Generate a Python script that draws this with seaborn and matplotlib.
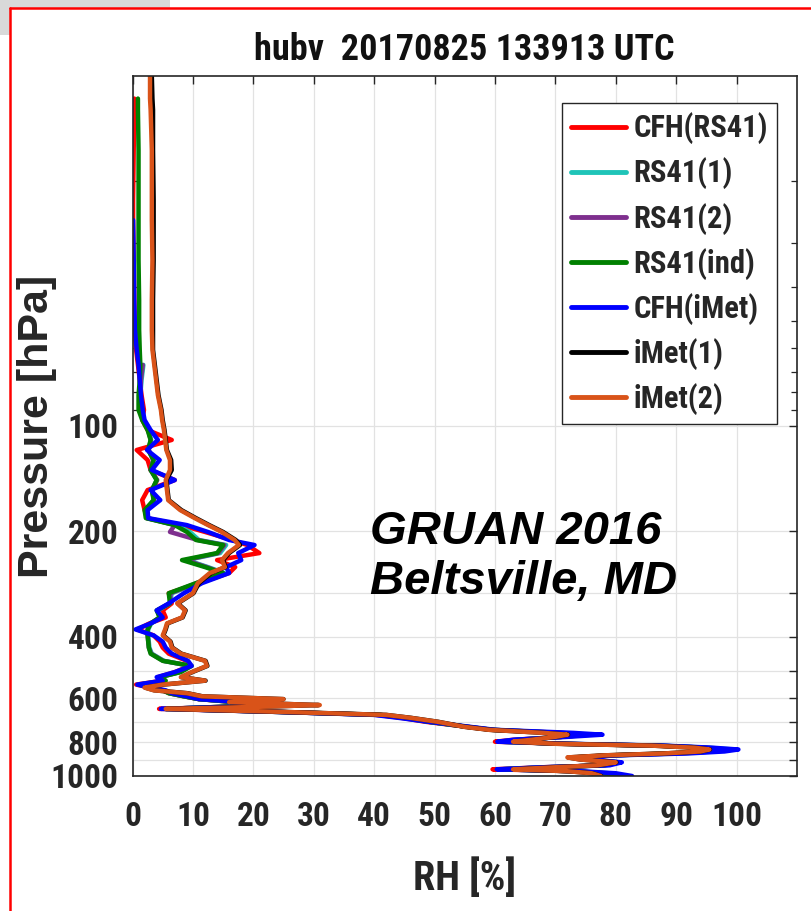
import numpy as np
import pandas as pd
import matplotlib
matplotlib.use("Agg")
import matplotlib.pyplot as plt
import seaborn as sns
from matplotlib.patches import Rectangle
from matplotlib.lines import Line2D
from matplotlib.ticker import FixedLocator, NullFormatter

nan = np.nan

# ---------------- data ----------------
pressure = [10.0, 11.6, 12.5, 16.3, 22.6, 25.8, 33.6, 43.7, 53.2, 60.6,
            66.9, 73.9, 81.6, 90.0, 96.1, 102.7, 109.6, 117.1, 125.1, 133.6,
            142.7, 152.4, 162.8, 173.9, 183.3, 191.9, 200.8, 211.7, 218.8, 230.7,
            241.6, 253.0, 263.1, 281.2, 300.5, 321.2, 336.4, 352.3, 366.5, 381.3,
            396.6, 413.0, 429.7, 447.2, 468.8, 484.6, 504.8, 521.9, 534.0, 548.0,
            559.0, 569.0, 580.0, 592.0, 603.0, 615.0, 627.0, 635.0, 643.0, 656.0,
            669.0, 682.0, 700.0, 724.0, 738.0, 753.0, 762.0, 773.0, 788.0, 798.0,
            809.0, 819.0, 830.0, 840.0, 851.0, 862.0, 873.0, 885.0, 897.0, 914.0,
            932.0, 944.0, 957.0, 969.0, 982.0, 1000.0]

cfh_rs41 = [nan, 0.3, 0.3, 0.2, 0.1, 0.1, 0.2, 0.3, 0.4, 0.6,
            0.9, 1.2, 1.5, 1.9, 1.6, 2.5, 6.5, 0.7, 2.5, 3.0,
            7.0, 2.5, 1.6, 2.0, 2.4, 8.0, 12.0, 16.5, 19.0, 21.0,
            14.0, 17.0, 16.0, 11.0, 6.0, 6.5, 5.0, 5.5, 2.8, 0.8,
            3.5, 4.5, 5.0, 6.0, 9.0, 9.5, 7.0, 4.2, 5.0, 0.6,
            2.8, 5.2, 6.0, 8.5, 11.0, 17.0, 22.0, 14.5, 4.4, 24.0,
            40.5, 44.5, 48.5, 55.5, 59.5, 71.0, 75.0, 71.0, 63.0, 60.0,
            71.0, 87.0, 94.5, 98.0, 96.0, 90.0, 79.0, 73.0, 75.0, 80.5,
            78.0, 68.0, 59.6, 73.0, 78.0, 80.0]

rs41_1 = [nan, nan, nan, nan, nan, nan, nan, nan, nan, nan,
          1.8, 1.5, 1.3, 1.2, 1.7, 2.6, 3.1, 2.6, 3.5, 3.1,
          4.0, 3.3, 3.5, 2.2, 2.4, 7.2, 9.5, 11.0, 15.5, 14.5,
          9.0, 12.5, 15.2, 10.8, 6.5, 6.2, 4.2, 4.6, 3.1, 2.6,
          2.6, 2.7, 2.8, 3.2, 5.2, 9.6, 7.8, 4.5, 5.4, 1.2,
          2.6, 5.0, 6.2, 8.6, 11.0, 17.2, 22.5, 14.2, 5.4, 24.2,
          41.0, 45.0, 49.2, 55.6, 59.6, 71.0, 76.0, 71.0, 63.5, 60.8,
          71.5, 87.5, 95.2, 99.5, 96.5, 90.5, 79.5, 73.5, 75.5, 80.5,
          78.5, 68.5, 60.8, 73.5, 79.0, 81.0]

rs41_2 = [nan, nan, nan, nan, nan, nan, nan, nan, nan, nan,
          1.7, 1.4, 1.3, 1.2, 1.7, 2.6, 3.0, 2.7, 3.4, 3.0,
          4.1, 3.2, 3.6, 2.2, 2.4, 7.0, 6.2, 10.8, 15.2, 14.2,
          8.8, 12.3, 15.0, 10.6, 6.3, 6.2, 4.1, 4.5, 3.0, 2.5,
          2.5, 2.6, 2.7, 3.1, 5.1, 9.6, 7.8, 4.5, 5.4, 1.2,
          2.6, 5.0, 6.1, 8.6, 11.0, 17.1, 22.3, 14.1, 5.4, 24.1,
          41.0, 45.0, 49.1, 55.5, 59.5, 70.5, 75.5, 71.0, 63.5, 60.8,
          71.2, 87.2, 94.8, 98.5, 96.0, 90.0, 79.2, 73.2, 75.2, 80.3,
          78.2, 68.5, 60.8, 73.2, 78.5, 80.5]

rs41_ind = [nan, 0.9, 0.9, 1.0, 1.0, 1.0, 1.0, 1.1, 1.1, 1.2,
            1.3, 1.2, 1.0, 1.0, 1.6, 2.5, 3.0, 2.6, 3.5, 3.0,
            4.0, 3.2, 3.5, 2.0, 2.2, 7.0, 9.0, 10.5, 15.0, 14.0,
            8.2, 12.0, 15.0, 10.5, 6.0, 6.2, 4.0, 4.5, 3.0, 2.5,
            2.5, 2.6, 2.7, 3.0, 5.0, 9.8, 8.0, 4.5, 5.5, 1.2,
            2.5, 5.0, 6.0, 8.5, 11.0, 17.0, 22.0, 14.0, 5.5, 24.0,
            41.0, 45.0, 49.0, 55.5, 59.5, 70.0, 75.0, 71.0, 64.0, 61.0,
            71.0, 87.0, 94.5, 97.0, 95.0, 89.0, 79.0, 73.0, 75.0, 80.0,
            78.0, 69.0, 61.0, 73.0, 78.0, 80.0]

cfh_imet = [nan, nan, nan, nan, nan, 0.1, 0.2, 0.3, 0.4, 0.7,
            1.0, 1.2, 1.4, 1.7, 2.0, 3.0, 4.2, 2.4, 4.5, 3.2,
            7.0, 3.0, 4.6, 2.5, 2.6, 9.0, 12.5, 16.0, 20.2, 17.5,
            18.0, 15.5, 16.0, 11.5, 8.5, 6.0, 4.0, 5.0, 3.0, 0.5,
            3.5, 5.0, 5.5, 6.5, 9.2, 9.8, 7.0, 4.0, 5.0, 0.8,
            3.0, 5.5, 6.5, 9.0, 11.0, 18.0, 23.0, 15.0, 4.7, 24.0,
            40.0, 44.0, 49.0, 56.0, 60.0, 73.0, 77.8, 72.0, 63.0, 60.4,
            72.0, 88.0, 96.0, 100.3, 98.0, 92.0, 80.0, 74.0, 76.0, 81.0,
            79.0, 68.0, 60.3, 74.0, 80.0, 82.7]

imet_1 = [3.2, 3.3, 3.4, 3.4, 3.5, 3.5, 3.5, 3.4, 3.4, 3.4,
          3.7, 4.0, 4.3, 4.8, 5.0, 5.3, 5.5, 5.7, 6.4, 6.5,
          5.6, 5.8, 6.0, 8.1, 10.5, 12.7, 15.0, 17.1, 17.8, 16.0,
          15.0, 15.4, 13.0, 11.0, 10.1, 7.5, 8.8, 8.3, 5.8, 5.5,
          5.1, 6.3, 6.6, 8.1, 12.1, 12.4, 9.9, 8.1, 12.1, 5.1,
          2.1, 3.6, 9.1, 11.6, 25.0, 16.2, 30.8, 20.1, 5.6, 25.1,
          42.0, 46.1, 50.6, 55.1, 59.1, 68.2, 72.1, 70.1, 66.1, 63.1,
          70.1, 86.1, 93.1, 95.6, 94.1, 88.1, 78.1, 72.1, 74.1, 80.1,
          77.1, 70.1, 63.1, 72.1, 76.1, 77.6]

imet_2 = [2.9, 2.9, 3.0, 3.2, 3.2, 3.2, 3.3, 3.2, 3.2, 3.3,
          3.6, 3.9, 4.2, 4.7, 4.9, 5.2, 5.4, 5.6, 6.2, 6.2,
          5.5, 5.7, 5.9, 7.9, 10.3, 12.5, 14.8, 16.9, 17.6, 15.8,
          14.8, 15.3, 12.8, 10.8, 10.0, 7.4, 8.7, 8.2, 5.7, 5.4,
          5.0, 6.2, 6.5, 8.0, 12.0, 12.3, 9.8, 8.0, 12.0, 5.0,
          2.0, 3.5, 9.0, 11.5, 25.0, 16.0, 31.0, 20.0, 5.5, 25.0,
          42.0, 46.0, 50.5, 55.0, 59.0, 68.0, 72.0, 70.0, 66.0, 63.0,
          70.0, 86.0, 93.0, 95.5, 94.0, 88.0, 78.0, 72.0, 74.0, 80.0,
          77.0, 70.0, 63.0, 72.0, 76.0, 77.5]

series_names = ["CFH(RS41)", "RS41(1)", "RS41(2)", "RS41(ind)",
                "CFH(iMet)", "iMet(1)", "iMet(2)"]
series_values = [cfh_rs41, rs41_1, rs41_2, rs41_ind, cfh_imet, imet_1, imet_2]
series_colors = ["#FF0000", "#1FC4B8", "#7E2F8E", "#008000",
                 "#0000FF", "#000000", "#D95319"]

y_tick_values = [100, 200, 300, 400, 500, 600, 700, 800, 900, 1000]
y_tick_labels = ["100", "200", "", "400", "", "600", "", "800", "", "1000"]
y_minor_ticks = [20, 30, 40, 50, 60, 70, 80, 90]
x_tick_values = [0, 10, 20, 30, 40, 50, 60, 70, 80, 90, 100]

# ---------------- long table ----------------
frames = []
for name, vals in zip(series_names, series_values):
    frames.append(pd.DataFrame({"p": pressure, "RH": vals, "series": name}))
long = pd.concat(frames, ignore_index=True).dropna()

# ---------------- style ----------------
sns.set_theme(style="white")
NARROW = ["Roboto Condensed", "DejaVu Sans"]
WIDE = ["Liberation Sans", "DejaVu Sans"]
plt.rcParams["font.family"] = NARROW
plt.rcParams["axes.edgecolor"] = "#262626"
plt.rcParams["axes.linewidth"] = 1.2

W, H = 811, 911
fig = plt.figure(figsize=(W / 100, H / 100), dpi=100)
fig.patch.set_facecolor("white")

# screenshot frame decorations
fig.add_artist(Rectangle((0, (H - 35) / H), 170 / W, 35 / H, transform=fig.transFigure,
                         facecolor="#d9d9d9", edgecolor="none", zorder=-3))
fig.add_artist(Rectangle((10 / W, 0), 1 - 10 / W, (H - 8) / H, transform=fig.transFigure,
                         facecolor="white", edgecolor="none", zorder=-2))
fig.add_artist(Line2D([10 / W, 10 / W], [0, (H - 8) / H], transform=fig.transFigure,
                      color="red", lw=1.8, zorder=5))
fig.add_artist(Line2D([10 / W, 1], [(H - 8) / H, (H - 8) / H], transform=fig.transFigure,
                      color="red", lw=1.8, zorder=5))

ax_l, ax_r, ax_t, ax_b = 132.5, 797, 76, 776
ax = fig.add_axes([ax_l / W, (H - ax_b) / H, (ax_r - ax_l) / W, (ax_b - ax_t) / H])

palette = dict(zip(series_names, series_colors))
sns.lineplot(data=long, x="RH", y="p", hue="series", hue_order=series_names,
             palette=palette, sort=False, estimator=None, linewidth=3.2, ax=ax)

ax.set_yscale("log")
ax.set_ylim(1000, 10)
ax.set_xlim(0, 110)
ax.set_yticks(y_tick_values)
ax.set_yticklabels(y_tick_labels)
ax.yaxis.set_minor_locator(FixedLocator(y_minor_ticks))
ax.yaxis.set_minor_formatter(NullFormatter())
ax.set_xticks(x_tick_values)
ax.set_xticklabels([str(v) for v in x_tick_values])

ax.grid(True, which="major", color="#e2e2e2", linewidth=0.9)
ax.set_axisbelow(True)
ax.tick_params(which="major", direction="in", top=True, right=True, length=6,
               width=1.0, color="#262626", labelsize=24, labelcolor="#262626")
ax.tick_params(which="minor", direction="in", left=True, right=True, length=4,
               width=0.9, color="#262626")
ax.tick_params(axis="x", pad=18)
ax.tick_params(axis="y", pad=10)
for lab in ax.get_xticklabels() + ax.get_yticklabels():
    lab.set_fontweight("bold")
    lab.set_family(NARROW)

ax.set_title("hubv  20170825 133913 UTC", fontsize=26, fontweight="bold",
             family=NARROW, color="#111111", pad=11.5)
ax.set_xlabel("RH [%]", fontsize=29, fontweight="bold", family=NARROW, color="#262626")
ax.set_ylabel("Pressure [hPa]", fontsize=31, fontweight="bold", family=WIDE, color="#262626")
ax.xaxis.set_label_coords(0.5, -0.116)
ax.yaxis.set_label_coords(-0.113, 0.5)

ax.text(0.357, 0.313, "GRUAN 2016\nBeltsville, MD", transform=ax.transAxes,
        fontsize=34, fontweight="bold", fontstyle="italic", family=WIDE,
        ha="left", va="center", color="black", linespacing=1.2)

old = ax.get_legend()
handles = old.legend_handles
labels = [t.get_text() for t in old.get_texts()]
old.remove()
for h in handles:
    h.set_linewidth(3.5)
leg = ax.legend(handles, labels, loc="upper right", bbox_to_anchor=(0.970, 0.961),
                borderaxespad=0, frameon=True, fancybox=False, framealpha=1,
                edgecolor="#262626",
                prop={"family": NARROW, "weight": "bold", "size": 22},
                handlelength=1.8, handletextpad=0.25, labelspacing=0.43,
                borderpad=0.3)
leg.get_frame().set_linewidth(1.0)

fig.savefig("out.png", dpi=100)
